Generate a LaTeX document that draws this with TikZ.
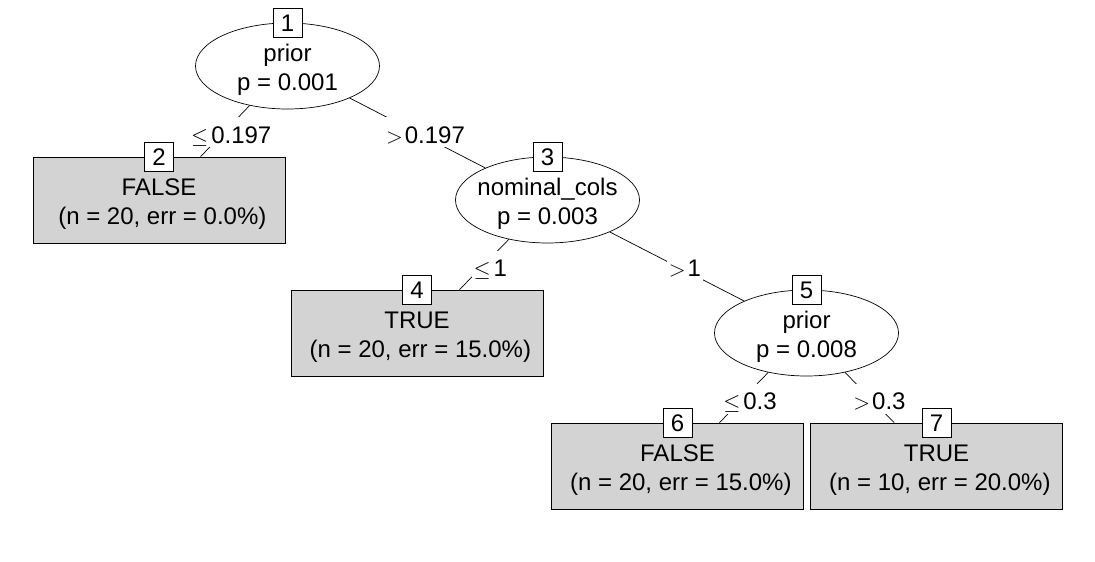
\RequirePackage{fix-cm}
\documentclass[tikz,border=0pt]{standalone}
\usepackage{fontspec}
\setmainfont{Liberation Sans}
\usetikzlibrary{shapes.geometric,calc}
\definecolor{leafgray}{HTML}{D3D3D3}
\newcommand{\symsz}{\fontsize{22}{22}\selectfont}
\begin{document}
\begin{tikzpicture}[x=1pt,y=-1pt,
  every node/.style={font=\fontsize{24}{28}\selectfont},
  inner/.style={draw, ellipse, minimum width=184pt, minimum height=86pt, inner sep=0pt, line width=0.7pt},
  leaf/.style={draw, rectangle, fill=leafgray, minimum width=252pt, minimum height=86pt, inner sep=0pt, line width=0.7pt},
  idbox/.style={draw, fill=white, minimum width=29pt, minimum height=29pt, inner sep=0pt, text height=17pt, text depth=0pt, line width=0.7pt},
  txt/.style={anchor=base, inner sep=0pt},
  elab/.style={fill=white, inner xsep=2pt, inner ysep=0pt, text height=26pt, text depth=4pt},
  conn/.style={line width=0.7pt}]
\fill[white] (0,0) rectangle (1095,562);
\useasboundingbox (0,0) rectangle (1095,562);
% shapes
\node[inner] (n1) at (287.5,66) {};
\node[leaf]  (n2) at (159,200) {};
\node[inner] (n3) at (547.5,200) {};
\node[leaf]  (n4) at (417,333) {};
\node[inner] (n5) at (806.5,333) {};
\node[leaf]  (n6) at (677.5,466) {};
\node[leaf]  (n7) at (936.5,466) {};
% connectors
\draw[conn] (n1) -- (n2);
\draw[conn] (n1) -- (n3);
\draw[conn] (n3) -- (n4);
\draw[conn] (n3) -- (n5);
\draw[conn] (n5) -- (n6);
\draw[conn] (n5) -- (n7);
% edge labels
\node[elab] (e12) at (231.25,132) {{\symsz$\leq$}\hspace{3pt}0.197};
\node[elab] (e13) at (425.5,132) {{\symsz$>$}\hspace{2pt}0.197};
\node[elab] (e34) at (490.25,265.5) {{\symsz$\leq$}\hspace{3pt}1};
\node[elab] (e35) at (685,265.5) {{\symsz$>$}\hspace{2pt}1};
\node[elab] (e56) at (750,398.5) {{\symsz$\leq$}\hspace{3pt}0.3};
\node[elab] (e57) at (879.5,398.5) {{\symsz$>$}\hspace{2pt}0.3};
% id boxes
\node[idbox] (i1) at (n1.north) {1};
\node[idbox] (i2) at (n2.north) {2};
\node[idbox] (i3) at (n3.north) {3};
\node[idbox] (i4) at (n4.north) {4};
\node[idbox] (i5) at (n5.north) {5};
\node[idbox] (i6) at (n6.north) {6};
\node[idbox] (i7) at (n7.north) {7};
% texts
\node[txt] (n1a) at ($(n1)+(0,-4.5)$) {prior};
\node[txt] (n1b) at ($(n1)+(0,24)$) {p = 0.001};
\node[txt] (n3a) at ($(n3)+(0,-4.5)$) {nominal\_cols};
\node[txt] (n3b) at ($(n3)+(0,24)$) {p = 0.003};
\node[txt] (n5a) at ($(n5)+(0,-4.5)$) {prior};
\node[txt] (n5b) at ($(n5)+(0,24)$) {p = 0.008};
\node[txt] (n2a) at ($(n2)+(0,-4.5)$) {FALSE};
\node[txt] (n2b) at ($(n2)+(0,24)$) {\ (n = 20, err = 0.0\%)};
\node[txt] (n4a) at ($(n4)+(0,-4.5)$) {TRUE};
\node[txt] (n4b) at ($(n4)+(0,24)$) {\ (n = 20, err = 15.0\%)};
\node[txt] (n6a) at ($(n6)+(0,-4.5)$) {FALSE};
\node[txt] (n6b) at ($(n6)+(0,24)$) {\ (n = 20, err = 15.0\%)};
\node[txt] (n7a) at ($(n7)+(0,-4.5)$) {TRUE};
\node[txt] (n7b) at ($(n7)+(0,24)$) {\ (n = 10, err = 20.0\%)};
\end{tikzpicture}
\end{document}
